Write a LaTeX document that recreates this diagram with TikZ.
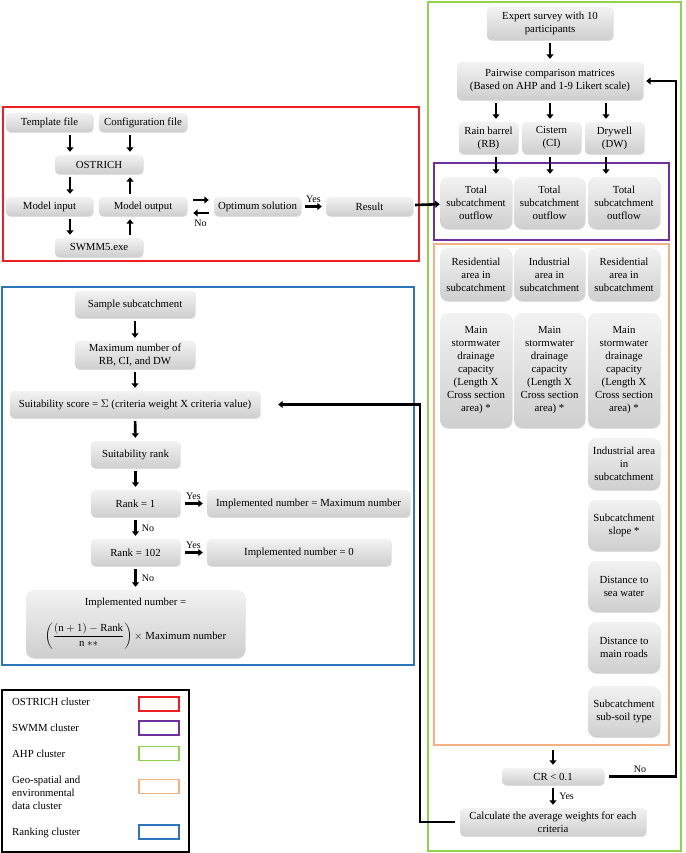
\documentclass[tikz,border=0pt]{standalone}
\usepackage{amsmath}
\usepackage{fontspec}
\setmainfont{Liberation Serif}
\usetikzlibrary{arrows.meta,shadows}

\definecolor{ostrichred}{RGB}{240,30,36}
\definecolor{swmmpurple}{RGB}{112,48,160}
\definecolor{ahpgreen}{RGB}{146,208,80}
\definecolor{geoorange}{RGB}{244,177,131}
\definecolor{rankblue}{RGB}{46,117,190}

\begin{document}
\begin{tikzpicture}[
  x=1pt, y=-1pt,
  font=\fontsize{10.8}{13}\selectfont,
  box/.style={rounded corners=4pt, top color=gray!10, bottom color=gray!38, align=center, inner sep=1pt,
    drop shadow={opacity=0.25, shadow xshift=0.6pt, shadow yshift=-0.8pt}},
  bigbox/.style={box, rounded corners=8pt},
  arr/.style={-{Triangle[length=4.5pt,width=7pt]}, line width=2.6pt, shorten <=3pt, shorten >=3pt},
  frame/.style={line width=1.4pt},
  lbl/.style={font=\fontsize{10}{12}\selectfont, inner sep=1pt},
  legbox/.style={draw, line width=1.2pt, minimum width=40pt, minimum height=14pt, inner sep=0pt}
]
\useasboundingbox (0,0) rectangle (685,853);

% cluster frames
\draw[frame, ostrichred] (3,107) rectangle (419,261);
\draw[frame, ahpgreen, line width=1.6pt] (428,2) rectangle (681,851);
\draw[frame, swmmpurple] (434,163) rectangle (669,240);
\draw[frame, geoorange] (434,244) rectangle (669,745);
\draw[frame, rankblue, line width=1.6pt] (2,287) rectangle (414,665);

% OSTRICH cluster
\node[box, minimum width=87pt, minimum height=19pt] (tmpl) at (49.5,122.5) {Template file};
\node[box, minimum width=88pt, minimum height=19pt] (conf) at (143,122.5) {Configuration file};
\node[box, minimum width=88pt, minimum height=19pt] (ostrich) at (99,164.5) {OSTRICH};
\node[box, minimum width=87pt, minimum height=19pt] (minput) at (49.5,206.5) {Model input};
\node[box, minimum width=88pt, minimum height=19pt] (moutput) at (143,206.5) {Model output};
\node[box, minimum width=88pt, minimum height=19pt] (swmm) at (99,247.5) {SWMM5.exe};
\node[box, minimum width=87pt, minimum height=19pt] (optsol) at (257.5,206.5) {Optimum solution};
\node[box, minimum width=87pt, minimum height=19pt] (result) at (369.5,206.5) {Result};

\coordinate (cl) at (70,0);
\coordinate (cr) at (130,0);
\draw[arr] (tmpl.south -| cl) -- (ostrich.north -| cl);
\draw[arr] (conf.south -| cr) -- (ostrich.north -| cr);
\draw[arr] (ostrich.south -| cl) -- (minput.north -| cl);
\draw[arr] (moutput.north -| cr) -- (ostrich.south -| cr);
\draw[arr] (minput.south -| cl) -- (swmm.north -| cl);
\draw[arr] (swmm.north -| cr) -- (moutput.south -| cr);
\draw[arr, shorten <=6pt, shorten >=5pt] ([yshift=6.5pt]moutput.east) -- ([yshift=6.5pt]optsol.west);
\draw[arr, shorten <=5pt, shorten >=6pt] ([yshift=-6.5pt]optsol.west) -- ([yshift=-6.5pt]moutput.east)
  node[lbl, below=5pt, midway] {No};
\draw[arr, shorten <=4pt, shorten >=4pt] (optsol) -- (result) node[lbl, above=2pt, midway] {Yes};

% AHP cluster
\node[box, minimum width=126pt, minimum height=33pt] (expert) at (550,23.5) {Expert survey with 10\\participants};
\node[box, minimum width=186pt, minimum height=38pt] (pair) at (550,81) {Pairwise comparison matrices\\(Based on AHP and 1-9 Likert scale)};
\node[box, minimum width=59pt, minimum height=32pt] (rb) at (488.5,138) {Rain barrel\\(RB)};
\node[box, minimum width=59pt, minimum height=32pt] (ci) at (551.5,138) {Cistern\\(CI)};
\node[box, minimum width=59pt, minimum height=32pt] (dw) at (614.5,138) {Drywell\\(DW)};

% SWMM cluster
\node[bigbox, minimum width=72pt, minimum height=52pt] (tso1) at (476,203) {Total\\subcatchment\\outflow};
\node[bigbox, minimum width=71pt, minimum height=52pt] (tso2) at (549.5,203) {Total\\subcatchment\\outflow};
\node[bigbox, minimum width=72pt, minimum height=52pt] (tso3) at (624,203) {Total\\subcatchment\\outflow};

% geo-spatial and environmental data cluster
\node[bigbox, minimum width=72pt, minimum height=53pt] (res1) at (476,274.5) {Residential\\area in\\subcatchment};
\node[bigbox, minimum width=71pt, minimum height=53pt] (ind1) at (549.5,274.5) {Industrial\\area in\\subcatchment};
\node[bigbox, minimum width=72pt, minimum height=53pt] (res2) at (624,274.5) {Residential\\area in\\subcatchment};
\node[bigbox, minimum width=72pt, minimum height=115pt] (main1) at (476,370.5) {Main\\stormwater\\drainage\\capacity\\(Length X\\Cross section\\area) *};
\node[bigbox, minimum width=71pt, minimum height=115pt] (main2) at (549.5,370.5) {Main\\stormwater\\drainage\\capacity\\(Length X\\Cross section\\area) *};
\node[bigbox, minimum width=72pt, minimum height=115pt] (main3) at (624,370.5) {Main\\stormwater\\drainage\\capacity\\(Length X\\Cross section\\area) *};
\node[bigbox, minimum width=72pt, minimum height=52pt] (indarea) at (624,464) {Industrial area\\in\\subcatchment};
\node[bigbox, minimum width=72pt, minimum height=51pt] (slope) at (624,525.5) {Subcatchment\\slope *};
\node[bigbox, minimum width=72pt, minimum height=51pt] (sea) at (624,586.5) {Distance to\\sea water};
\node[bigbox, minimum width=72pt, minimum height=51pt] (roads) at (624,647.5) {Distance to\\main roads};
\node[bigbox, minimum width=72pt, minimum height=51pt] (soil) at (624,711.5) {Subcatchment\\sub-soil type};

\node[box, minimum width=102pt, minimum height=17pt] (crit) at (553,776.5) {CR < 0.1};
\node[box, minimum width=186pt, minimum height=28pt] (calc) at (553,822) {Calculate the average weights for each\\criteria};

\coordinate (a1) at (496,0);
\coordinate (a2) at (550,0);
\coordinate (a3) at (606,0);
\coordinate (geobot) at (553,745);
\coordinate (loopx) at (676,0);
\coordinate (backx) at (420,0);
\draw[arr] (expert) -- (pair);
\draw[arr] (pair.south -| a1) -- (rb.north -| a1);
\draw[arr] (pair.south -| a2) -- (ci.north -| a2);
\draw[arr] (pair.south -| a3) -- (dw.north -| a3);
\draw[arr] (rb.south -| a1) -- (tso1.north -| a1);
\draw[arr] (ci.south -| a2) -- (tso2.north -| a2);
\draw[arr] (dw.south -| a3) -- (tso3.north -| a3);
\draw[arr, shorten <=5pt] (geobot) -- (crit.north);
\draw[arr] (crit) -- (calc) node[lbl, right=4pt, midway] {Yes};
\draw[arr, line width=2.2pt, shorten <=5pt] (crit.east) -- (crit.east -| loopx) node[lbl, above=2pt, pos=0.5] {No}
  -- (pair.east -| loopx) -- (pair.east);
\draw[arr, shorten <=2pt, shorten >=0pt] (result) -- (tso1);

% ranking cluster
\node[box, minimum width=120pt, minimum height=27pt] (sample) at (135,304.5) {Sample subcatchment};
\node[box, minimum width=120pt, minimum height=28pt] (maxnum) at (135,355) {Maximum number of\\RB, CI, and DW};
\node[box, minimum width=250pt, minimum height=27pt] (score) at (135,404.5) {Suitability score = $\Sigma$ (criteria weight X criteria value)};
\node[box, minimum width=89pt, minimum height=27pt] (srank) at (135.5,454.5) {Suitability rank};
\node[box, minimum width=89pt, minimum height=27pt] (rankone) at (135.5,503.5) {Rank = 1};
\node[box, minimum width=203pt, minimum height=27pt] (impmax) at (308.5,503.5) {Implemented number = Maximum number};
\node[box, minimum width=89pt, minimum height=27pt] (ranklast) at (135.5,552.5) {Rank = 102};
\node[box, minimum width=184pt, minimum height=27pt] (impzero) at (299,552.5) {Implemented number = 0};
\node[bigbox, minimum width=219pt, minimum height=68pt] (impform) at (135.5,624)
  {Implemented number =\\[14pt]
   $\left(\dfrac{(\mathrm{n}+1)-\mathrm{Rank}}{\mathrm{n}\ {*}{*}}\right)\times$ Maximum number};

\draw[arr] (sample) -- (maxnum);
\draw[arr] (maxnum) -- (score);
\draw[arr] (score) -- (srank);
\draw[arr] (srank) -- (rankone);
\draw[arr] (rankone) -- (ranklast) node[lbl, right=4pt, midway] {No};
\draw[arr] (ranklast) -- (impform) node[lbl, right=4pt, midway] {No};
\draw[arr, shorten <=5pt, shorten >=4pt] (rankone) -- (impmax) node[lbl, above=2pt, midway] {Yes};
\draw[arr, shorten <=5pt, shorten >=4pt] (ranklast) -- (impzero) node[lbl, above=2pt, midway] {Yes};
\draw[arr, line width=2.2pt, shorten <=5pt, shorten >=18pt] (calc.west) -- (calc.west -| backx) -- (score.east -| backx) -- (score.east);

% legend
\draw[line width=1.5pt] (2,690) rectangle (189,852);
\node[anchor=west, inner sep=0pt] (lto) at (12,702) {OSTRICH cluster};
\node[anchor=west, inner sep=0pt] (lts) at (12,728) {SWMM cluster};
\node[anchor=west, inner sep=0pt] (lta) at (12,754) {AHP cluster};
\node[anchor=west, inner sep=0pt, align=left] (ltg) at (12,793) {Geo-spatial and\\environmental\\data cluster};
\node[anchor=west, inner sep=0pt] (ltr) at (12,833) {Ranking cluster};
\node[legbox, draw=ostrichred] (lbo) at (159,704) {};
\node[legbox, draw=swmmpurple] (lbs) at (159,728) {};
\node[legbox, draw=ahpgreen] (lba) at (159,753.5) {};
\node[legbox, draw=geoorange] (lbg) at (159,786.5) {};
\node[legbox, draw=rankblue] (lbr) at (159,832) {};
\end{tikzpicture}
\end{document}
